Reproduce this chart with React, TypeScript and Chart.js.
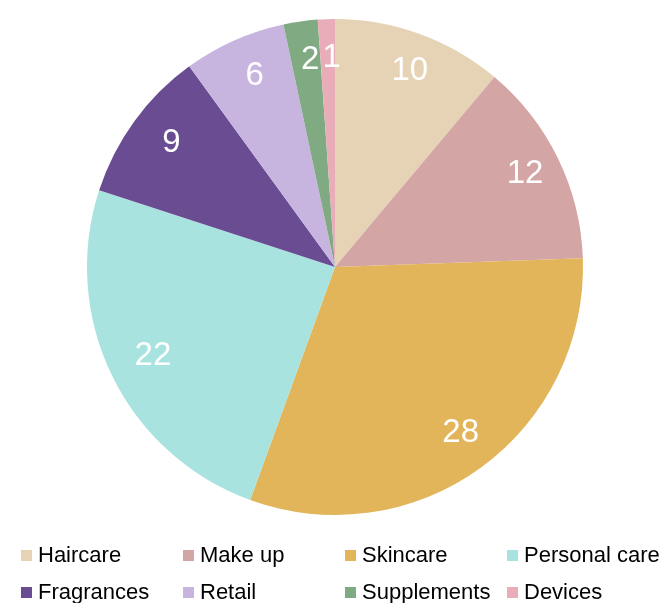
import React, { useEffect, useRef } from "react";
import { Chart, registerables } from "chart.js";

Chart.register(...registerables);

const categories = ["Haircare", "Make up", "Skincare", "Personal care", "Fragrances", "Retail", "Supplements", "Devices"];
const values = [10, 12, 28, 22, 9, 6, 2, 1];
const colors = ["#E6D3B5", "#D4A5A5", "#E2B55A", "#A8E3E0", "#6A4C93", "#C7B5E0", "#7FAA82", "#E8ADB8"];

const legendColumns = [21, 183, 345, 507];
const legendRows = [555, 592];

const labelPlugin = {
  id: "sliceLabels",
  afterDatasetsDraw(chart: any) {
    const ctx = chart.ctx;
    const meta = chart.getDatasetMeta(0);
    ctx.save();
    ctx.fillStyle = "#ffffff";
    ctx.font = '33px "Liberation Sans", Arial, sans-serif';
    ctx.textAlign = "center";
    ctx.textBaseline = "middle";
    meta.data.forEach((arc: any, i: number) => {
      const p = arc.getProps(["x", "y", "startAngle", "endAngle", "outerRadius"], true);
      const mid = (p.startAngle + p.endAngle) / 2;
      const d = p.outerRadius * 0.835;
      ctx.fillText(String(values[i]), p.x + Math.cos(mid) * d + 4, p.y + Math.sin(mid) * d - 2);
    });
    ctx.restore();
  },
};

export default function App() {
  const ref = useRef<HTMLCanvasElement | null>(null);
  useEffect(() => {
    if (!ref.current) return;
    const chart = new Chart(ref.current, {
      type: "pie",
      data: {
        labels: categories,
        datasets: [{ data: values, backgroundColor: colors, borderWidth: 0 }],
      },
      options: {
        animation: false,
        responsive: false,
        layout: { padding: { top: 19, bottom: 88, left: 2, right: 0 } },
        plugins: { legend: { display: false }, tooltip: { enabled: false } },
      },
      plugins: [labelPlugin],
    });
    return () => chart.destroy();
  }, []);

  return (
    <div style={{ position: "fixed", left: 0, top: 0, width: 668, height: 603, background: "#fff", overflow: "hidden" }}>
      <canvas ref={ref} width={668} height={603} style={{ position: "absolute", left: 0, top: 0, width: 668, height: 603 }} />
      {categories.map((c, i) => {
        const col = i % 4;
        const row = Math.floor(i / 4);
        return (
          <div
            key={c}
            style={{
              position: "absolute",
              left: legendColumns[col],
              top: legendRows[row] - 13,
              height: 26,
              display: "flex",
              alignItems: "center",
              whiteSpace: "nowrap",
              fontFamily: '"Liberation Sans", Arial, sans-serif',
              fontSize: 22,
              color: "#000",
            }}
          >
            <span style={{ display: "inline-block", width: 11, height: 11, background: colors[i], marginRight: 6 }} />
            <span>{c}</span>
          </div>
        );
      })}
    </div>
  );
}
